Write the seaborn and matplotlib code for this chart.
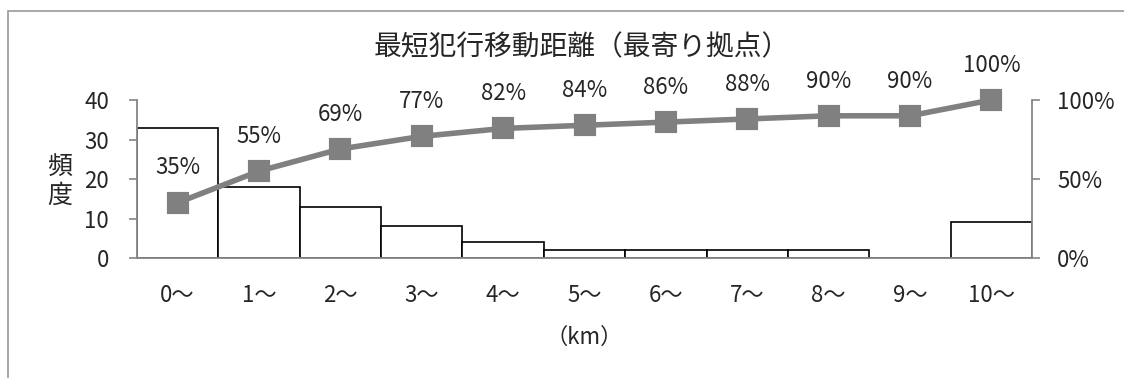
import matplotlib
matplotlib.use("Agg")
import matplotlib.pyplot as plt
import seaborn as sns
from matplotlib.patches import Rectangle

# histogram of shortest travel distance (km bins) and cumulative share
bins = ['0〜', '1〜', '2〜', '3〜', '4〜', '5〜', '6〜', '7〜', '8〜', '9〜', '10〜']
counts = [33, 18, 13, 8, 4, 2, 2, 2, 2, 0, 9]
cum_pct = [35, 55, 69, 77, 82, 84, 86, 88, 90, 90, 100]
left_ticks = [0, 10, 20, 30, 40]
right_ticks = [0, 50, 100]

sns.set_style("white")
plt.rcParams['font.family'] = ['Noto Sans CJK JP', 'DejaVu Sans']

grey = '#868686'
fs = 16

fig = plt.figure(figsize=(11.24, 3.78), dpi=100)
ax = fig.add_axes([137 / 1124, 1 - 258 / 378, (1032 - 137) / 1124, 158 / 378])

sns.barplot(x=bins, y=counts, ax=ax, color='white', edgecolor='black',
            linewidth=1.2, width=1.0, saturation=1)
ax.set_ylim(0, 40)
ax.set_yticks(left_ticks)
ax.set_xlim(-0.5, len(bins) - 0.5)

ax2 = ax.twinx()
sns.pointplot(x=bins, y=cum_pct, ax=ax2, color='#808080', markers='s',
              linestyles='-', markersize=13, linewidth=4)
ax2.set_ylim(0, 100)
ax2.set_yticks(right_ticks)
ax2.set_yticklabels([f'{t}%' for t in right_ticks])
ax2.set_xlim(-0.5, len(bins) - 0.5)
for ln in ax2.lines:
    ln.set_clip_on(False)
for c in ax2.collections:
    c.set_clip_on(False)

for i, v in enumerate(cum_pct):
    ax2.annotate(f'{v}%', (i, v), xytext=(0, 25), textcoords='offset points',
                 ha='center', va='center', fontsize=fs)

for a in (ax, ax2):
    for s in a.spines.values():
        s.set_visible(False)
ax.spines['left'].set_visible(True)
ax.spines['bottom'].set_visible(True)
ax2.spines['right'].set_visible(True)
for s in ('left', 'bottom'):
    ax.spines[s].set_color(grey)
    ax.spines[s].set_linewidth(1.3)
ax2.spines['right'].set_color(grey)
ax2.spines['right'].set_linewidth(1.3)

ax.tick_params(axis='y', which='both', left=True, direction='out', length=6,
               width=1.2, color=grey, labelsize=fs, pad=14)
ax.tick_params(axis='x', bottom=False, labelsize=fs, pad=15)
ax2.tick_params(axis='y', right=True, direction='out', length=6,
                width=1.2, color=grey, labelsize=fs, pad=12)

ax.set_ylabel('')
ax.set_xlabel('（km）', fontsize=fs, labelpad=14)

fig.text(60 / 1124, 1 - 181 / 378, '頻\n度', fontsize=18, ha='center',
         va='center', linespacing=1.15)
fig.text(582 / 1124, 1 - 47 / 378, '最短犯行移動距離（最寄り拠点）', fontsize=20,
         ha='center', va='center')

fig.patches.append(Rectangle((8 / 1124, -0.1), 2, 1 - 11 / 378 + 0.1,
                             transform=fig.transFigure, fill=False,
                             edgecolor='#9a9a9a', linewidth=1.2))

fig.savefig('out.png', dpi=100)
